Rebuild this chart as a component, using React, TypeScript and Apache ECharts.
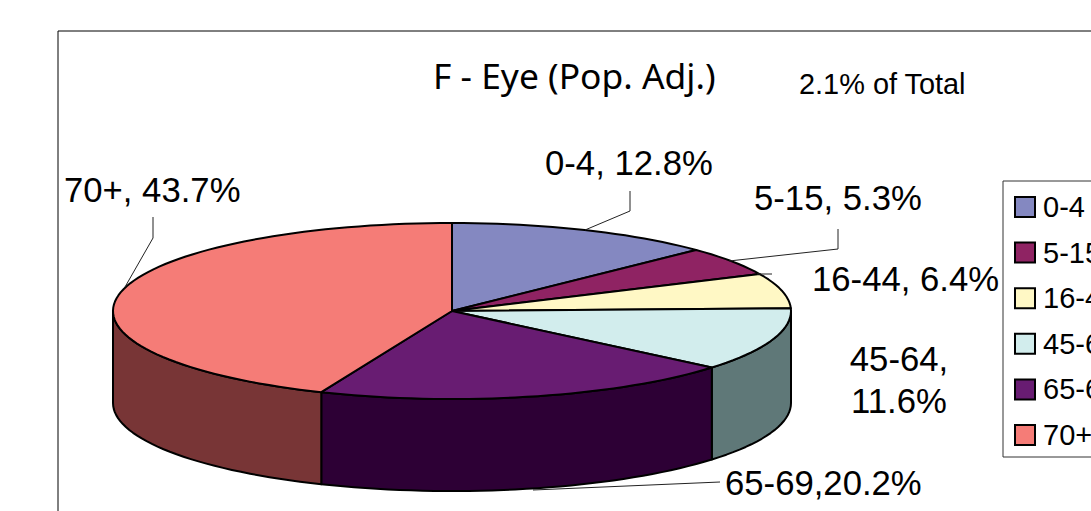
import React, { useEffect, useRef } from "react";
import * as echarts from "echarts";

const categories = ["0-4", "5-15", "16-44", "45-64", "65-69", "70+"];
const shares = [12.8, 5.3, 6.4, 11.6, 20.2, 43.7];
const dataLabels = ["0-4, 12.8%", "5-15, 5.3%", "16-44, 6.4%", "45-64,\n11.6%", "65-69,20.2%", "70+, 43.7%"];
const topColors = ["#8488c1", "#8f2363", "#fff8c5", "#d2eded", "#681c72", "#f57c77"];
const sideColors = ["#424460", "#481131", "#807c62", "#5f7878", "#2d0035", "#783536"];

// label placement: [x of left edge / centre, y of centre, align]
const labelPlaces: [number, number, string][] = [
  [545, 163, "left"],
  [754, 198, "left"],
  [812, 279, "left"],
  [899, 380, "center"],
  [725, 483, "left"],
  [64, 190, "left"],
];
const leaderLines: number[][][] = [
  [[585, 230], [630, 211], [630, 191]],
  [[729, 261], [838, 249], [838, 229]],
  [[757, 274], [772, 274]],
  [],
  [[533, 490], [720, 482]],
  [[125, 287], [153, 238], [153, 217]],
];

const CX = 452;
const CY = 311;
const RX = 339;
const RY = 88;
const DEPTH = 92;

const rim = (deg: number, dy = 0): number[] => {
  const r = (deg * Math.PI) / 180;
  return [CX + RX * Math.sin(r), CY - RY * Math.cos(r) + dy];
};
const arc = (a: number, b: number, dy = 0): number[][] => {
  const pts: number[][] = [];
  const n = Math.max(2, Math.ceil((b - a) / 2));
  for (let i = 0; i <= n; i++) pts.push(rim(a + ((b - a) * i) / n, dy));
  return pts;
};

const total = shares.reduce((s, v) => s + v, 0);
const starts = shares.map((_, i) => shares.slice(0, i).reduce((s, v) => s + v, 0));

const makeRender = (i: number) => (_params: any, api: any) => {
  const a = (api.value(0) / total) * 360;
  const b = a + (api.value(1) / total) * 360;
  const children: any[] = [];
  const sa = Math.max(a, 90);
  const sb = Math.min(b, 270);
  if (sb > sa) {
    children.push({
      type: "polygon",
      z2: 1,
      shape: { points: [...arc(sa, sb), ...arc(sa, sb, DEPTH).reverse()] },
      style: { fill: sideColors[i], stroke: "#000", lineWidth: 2, lineJoin: "round" },
    });
  }
  children.push({
    type: "polygon",
    z2: 2,
    shape: { points: [[CX, CY], ...arc(a, b)] },
    style: { fill: topColors[i], stroke: "#000", lineWidth: 2, lineJoin: "round" },
  });
  if (leaderLines[i].length) {
    children.push({
      type: "polyline",
      z2: 3,
      shape: { points: leaderLines[i] },
      style: { fill: "none", stroke: "#222", lineWidth: 1 },
    });
  }
  const [lx, ly, align] = labelPlaces[i];
  children.push({
    type: "text",
    z2: 4,
    style: {
      text: dataLabels[i],
      x: lx,
      y: ly,
      align,
      verticalAlign: "middle",
      fill: "#000",
      font: '34.7px "Liberation Sans"',
      lineHeight: 42,
    },
  });
  return { type: "group", children };
};

export default function App() {
  const ref = useRef<HTMLDivElement>(null);
  useEffect(() => {
    document.body.style.margin = "0";
    const chart = echarts.init(ref.current!, null, { renderer: "svg" });
    chart.setOption({
      animation: false,
      title: [
        {
          text: "F - Eye (Pop. Adj.)",
          left: 433,
          top: 57,
          padding: 0,
          textStyle: { fontFamily: "Noto Sans", fontSize: 35.4, fontWeight: "normal", color: "#000" },
        },
        {
          text: "2.1% of Total",
          left: 799,
          top: 69,
          padding: 0,
          textStyle: { fontFamily: "Liberation Sans", fontSize: 28.9, fontWeight: "normal", color: "#000" },
        },
      ],
      graphic: {
        elements: [
          {
            type: "rect",
            shape: { x: 58, y: 31, width: 1300, height: 700 },
            style: { fill: "#fff", stroke: "#000", lineWidth: 1 },
            silent: true,
          },
        ],
      },
      legend: {
        orient: "vertical",
        left: 1003,
        top: 181,
        padding: [11.5, 10, 7.5, 11],
        backgroundColor: "#fff",
        borderColor: "#333",
        borderWidth: 1,
        borderRadius: 0,
        itemWidth: 20,
        itemHeight: 20,
        itemGap: 16.6,
        icon: "rect",
        selectedMode: false,
        itemStyle: { borderColor: "#000", borderWidth: 2 },
        textStyle: { fontFamily: "Liberation Sans", fontSize: 29, color: "#000", padding: [0, 0, 0, 3] },
        data: categories,
      },
      series: categories.map((name, i) => ({
        type: "custom",
        name,
        coordinateSystem: "none",
        itemStyle: { color: topColors[i] },
        silent: true,
        data: [[starts[i], shares[i]]],
        renderItem: makeRender(i),
      })),
    });
    return () => chart.dispose();
  }, []);
  return (
    <div style={{ width: 1091, height: 511, overflow: "hidden" }}>
      <div ref={ref} style={{ width: 1300, height: 700 }} />
    </div>
  );
}
